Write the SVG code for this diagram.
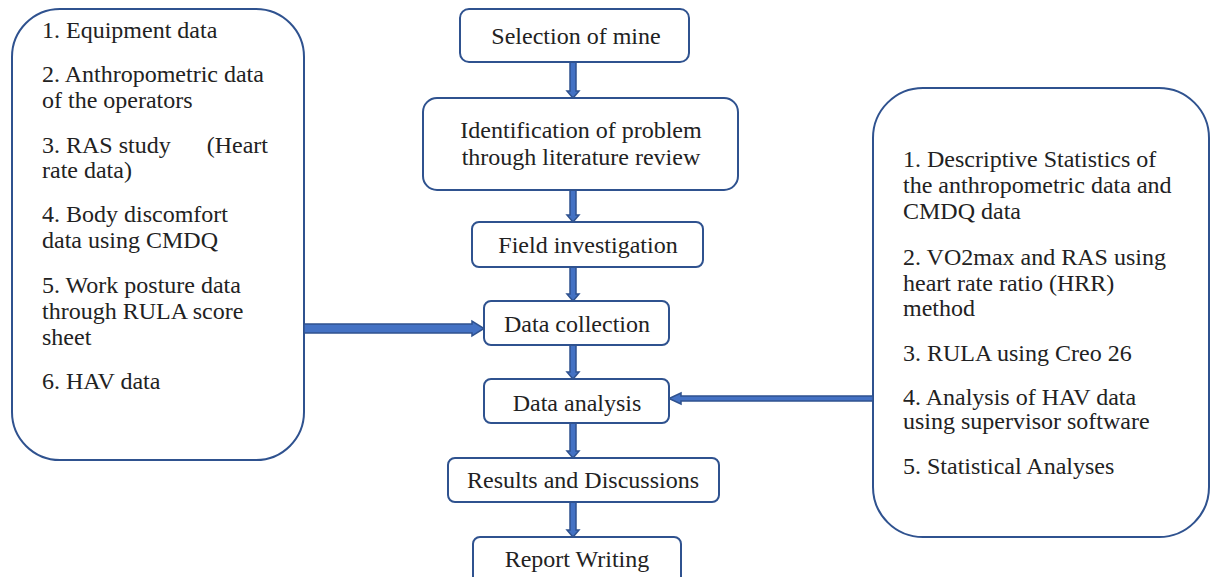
<svg xmlns="http://www.w3.org/2000/svg" width="1210" height="577" viewBox="0 0 1210 577">
<style>
.box{fill:#fff;stroke:#2F528F;stroke-width:2}
.lbl{font-family:"Liberation Serif","Times New Roman",serif;font-size:24px;fill:#222;white-space:pre}
.mid{text-anchor:middle}
.arr{fill:#4472C4;stroke:#2F528F;stroke-width:1.5;stroke-linejoin:miter}
</style>
<rect width="1210" height="577" fill="#fff"/>
<g id="left-box">
<rect class="box" x="12" y="9" width="292" height="451" rx="48"/>
<text class="lbl" x="42" y="38">1. Equipment data</text>
<text class="lbl" x="42" y="82">2. Anthropometric data</text>
<text class="lbl" x="42" y="108">of the operators</text>
<text class="lbl" x="42" y="153" xml:space="preserve">3. RAS study      (Heart</text>
<text class="lbl" x="42" y="178">rate data)</text>
<text class="lbl" x="42" y="222">4. Body discomfort</text>
<text class="lbl" x="42" y="248">data using CMDQ</text>
<text class="lbl" x="42" y="293">5. Work posture data</text>
<text class="lbl" x="42" y="319">through RULA score</text>
<text class="lbl" x="42" y="345">sheet</text>
<text class="lbl" x="42" y="389">6. HAV data</text>
</g>
<g id="right-box">
<rect class="box" x="873" y="88" width="336" height="449" rx="50"/>
<text class="lbl" x="903" y="167">1. Descriptive Statistics of</text>
<text class="lbl" x="903" y="193">the anthropometric data and</text>
<text class="lbl" x="903" y="219">CMDQ data</text>
<text class="lbl" x="903" y="265">2. VO2max and RAS using</text>
<text class="lbl" x="903" y="291">heart rate ratio (HRR)</text>
<text class="lbl" x="903" y="316">method</text>
<text class="lbl" x="903" y="361">3. RULA using Creo 26</text>
<text class="lbl" x="903" y="405">4. Analysis of HAV data</text>
<text class="lbl" x="903" y="429">using supervisor software</text>
<text class="lbl" x="903" y="474">5. Statistical Analyses</text>
</g>
<g id="connectors">
<polygon class="arr" points="570,62 576,62 576,91 579,91 573,98 567,91 570,91"/>
<polygon class="arr" points="570,190 576,190 576,215 579,215 573,222 567,215 570,215"/>
<polygon class="arr" points="570,267 576,267 576,294 579,294 573,301 567,294 570,294"/>
<polygon class="arr" points="570,345 576,345 576,372 579,372 573,379 567,372 570,372"/>
<polygon class="arr" points="570,423 576,423 576,451 579,451 573,458 567,451 570,451"/>
<polygon class="arr" points="570,502 576,502 576,530 579,530 573,537 567,530 570,530"/>
<polygon class="arr" points="304,324 472,324 472,321 484,328.5 472,336 472,333 304,333"/>
<polygon class="arr" points="873,396 681,396 681,393 669,398.5 681,404 681,401 873,401"/>
</g>
<g id="selection"><rect class="box" x="460" y="9" width="229" height="53" rx="9"/><text class="lbl mid" x="576" y="44">Selection of mine</text></g>
<g id="identification"><rect class="box" x="423" y="98" width="315" height="92" rx="14"/><text class="lbl mid" x="581" y="138">Identification of problem</text><text class="lbl mid" x="581" y="165">through literature review</text></g>
<g id="field"><rect class="box" x="472" y="222" width="231" height="45" rx="7"/><text class="lbl mid" x="588" y="253">Field investigation</text></g>
<g id="collection"><rect class="box" x="484" y="301" width="185" height="44" rx="7"/><text class="lbl mid" x="577" y="332">Data collection</text></g>
<g id="analysis"><rect class="box" x="484" y="379" width="185" height="44" rx="7"/><text class="lbl mid" x="577" y="411">Data analysis</text></g>
<g id="results"><rect class="box" x="448" y="458" width="271" height="44" rx="7"/><text class="lbl mid" x="583" y="488">Results and Discussions</text></g>
<g id="report"><rect class="box" x="473" y="537" width="208" height="50" rx="7"/><text class="lbl mid" x="577" y="567">Report Writing</text></g>
</svg>
